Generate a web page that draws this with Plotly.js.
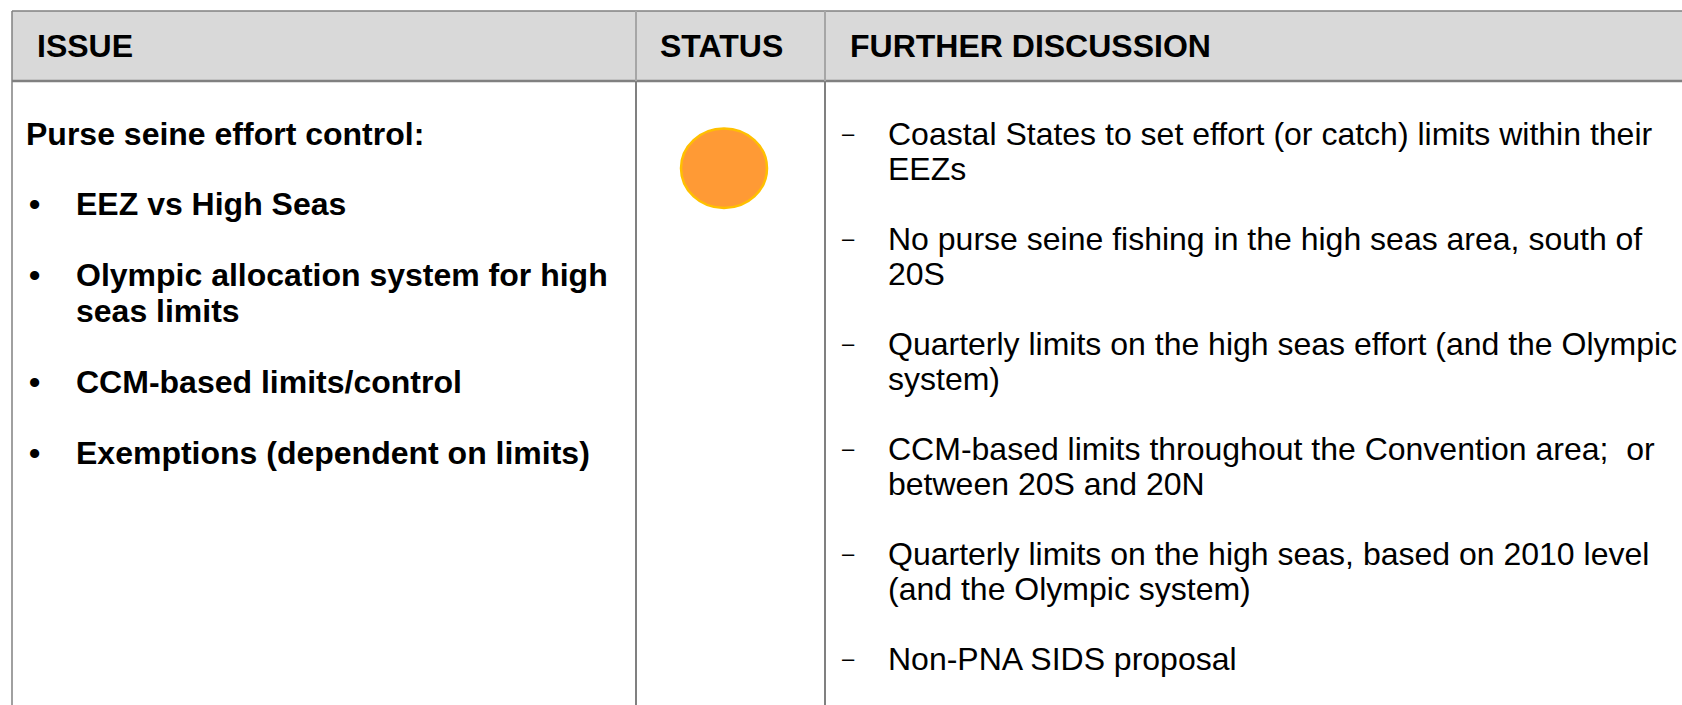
<!DOCTYPE html>
<html>
<head>
<meta charset="utf-8">
<script src="https://cdn.plot.ly/plotly-3.0.1.min.js"></script>
<style>html,body{margin:0;padding:0;background:#fff;}#chart{width:1682px;height:705px;}</style>
</head>
<body>
<div id="chart"></div>
<script>
// ---- data ----
const headers = ["ISSUE", "STATUS", "FURTHER DISCUSSION"];
const issueTitle = "Purse seine effort control:";
const issueItems = [
  ["EEZ vs High Seas"],
  ["Olympic allocation system for high", "seas limits"],
  ["CCM-based limits/control"],
  ["Exemptions (dependent on limits)"]
];
const statusLevel = ["amber"];
const statusColors = {amber: {fill: "#ff9a35", line: "#ffc000"}};
const discussionItems = [
  ["Coastal States to set effort (or catch) limits within their", "EEZs"],
  ["No purse seine fishing in the high seas area, south of", "20S"],
  ["Quarterly limits on the high seas effort (and the Olympic", "system)"],
  ["CCM-based limits throughout the Convention area;  or", "between 20S and 20N"],
  ["Quarterly limits on the high seas, based on 2010 level", "(and the Olympic system)"],
  ["Non-PNA SIDS proposal"]
];

// ---- layout geometry ----
const W = 1682, H = 705;
const FONT = "Liberation Sans, Arial, Helvetica, sans-serif";
const tableLeft = 12, tableTop = 11, headerBottom = 81;
const colX = [tableLeft, 636, 825, W];
const headerTextX = [34.5, 658, 848];
const border = "#808080";

const shapes = [];
const annotations = [];

// header background
shapes.push({type: "rect", xref: "x", yref: "y", x0: tableLeft, x1: W, y0: tableTop, y1: headerBottom,
  fillcolor: "#d9d9d9", line: {width: 0}, layer: "below"});
// borders
shapes.push({type: "line", xref: "x", yref: "y", x0: tableLeft, x1: W, y0: tableTop, y1: tableTop, line: {color: border, width: 1.5}});
shapes.push({type: "line", xref: "x", yref: "y", x0: tableLeft, x1: W, y0: headerBottom, y1: headerBottom, line: {color: border, width: 2.5}});
shapes.push({type: "line", xref: "x", yref: "y", x0: tableLeft, x1: tableLeft, y0: tableTop, y1: H, line: {color: border, width: 1.5}});
[colX[1], colX[2]].forEach(x => {
  shapes.push({type: "line", xref: "x", yref: "y", x0: x, x1: x, y0: tableTop, y1: headerBottom, line: {color: "#a6a6a6", width: 2}});
  shapes.push({type: "line", xref: "x", yref: "y", x0: x, x1: x, y0: headerBottom, y1: H, line: {color: border, width: 2}});
});

function txt(x, y, text, bold, anchor, size) {
  annotations.push({xref: "x", yref: "y", x: x, y: y, text: text, showarrow: false,
    xanchor: anchor || "left", yanchor: "middle",
    font: {family: FONT, size: size || 32, color: "#000", weight: bold ? "bold" : "normal"}});
}

// header texts
headers.forEach((h, i) => txt(headerTextX[i], 45.5, h, true));

// issue column
let y = 133.5;
txt(24, y, issueTitle, true);
y += 70;
issueItems.forEach(lines => {
  txt(34, y, "•", true, "center");
  lines.forEach((l, k) => txt(73.5, y + k * 36, l, true));
  y += (lines.length - 1) * 36 + 71;
});

// status
statusLevel.forEach(s => {
  const c = statusColors[s];
  shapes.push({type: "circle", xref: "x", yref: "y", x0: 681, x1: 767, y0: 128.5, y1: 208,
    fillcolor: c.fill, line: {color: c.line, width: 2.5}});
});

// discussion column
y = 133.5;
discussionItems.forEach(lines => {
  txt(848, y - 0.5, "–", false, "center", 22);
  lines.forEach((l, k) => txt(886, y + k * 35, l, false));
  y += (lines.length - 1) * 35 + 70;
});

const layout = {
  width: W, height: H,
  margin: {l: 0, r: 0, t: 0, b: 0},
  paper_bgcolor: "#fff", plot_bgcolor: "#fff",
  showlegend: false,
  xaxis: {range: [0, W], visible: false, fixedrange: true},
  yaxis: {range: [H, 0], visible: false, fixedrange: true},
  shapes: shapes,
  annotations: annotations
};

Plotly.newPlot("chart", [{x: [], y: [], type: "scatter", mode: "markers", hoverinfo: "skip"}], layout, {displayModeBar: false, staticPlot: true});
</script>
</body>
</html>
